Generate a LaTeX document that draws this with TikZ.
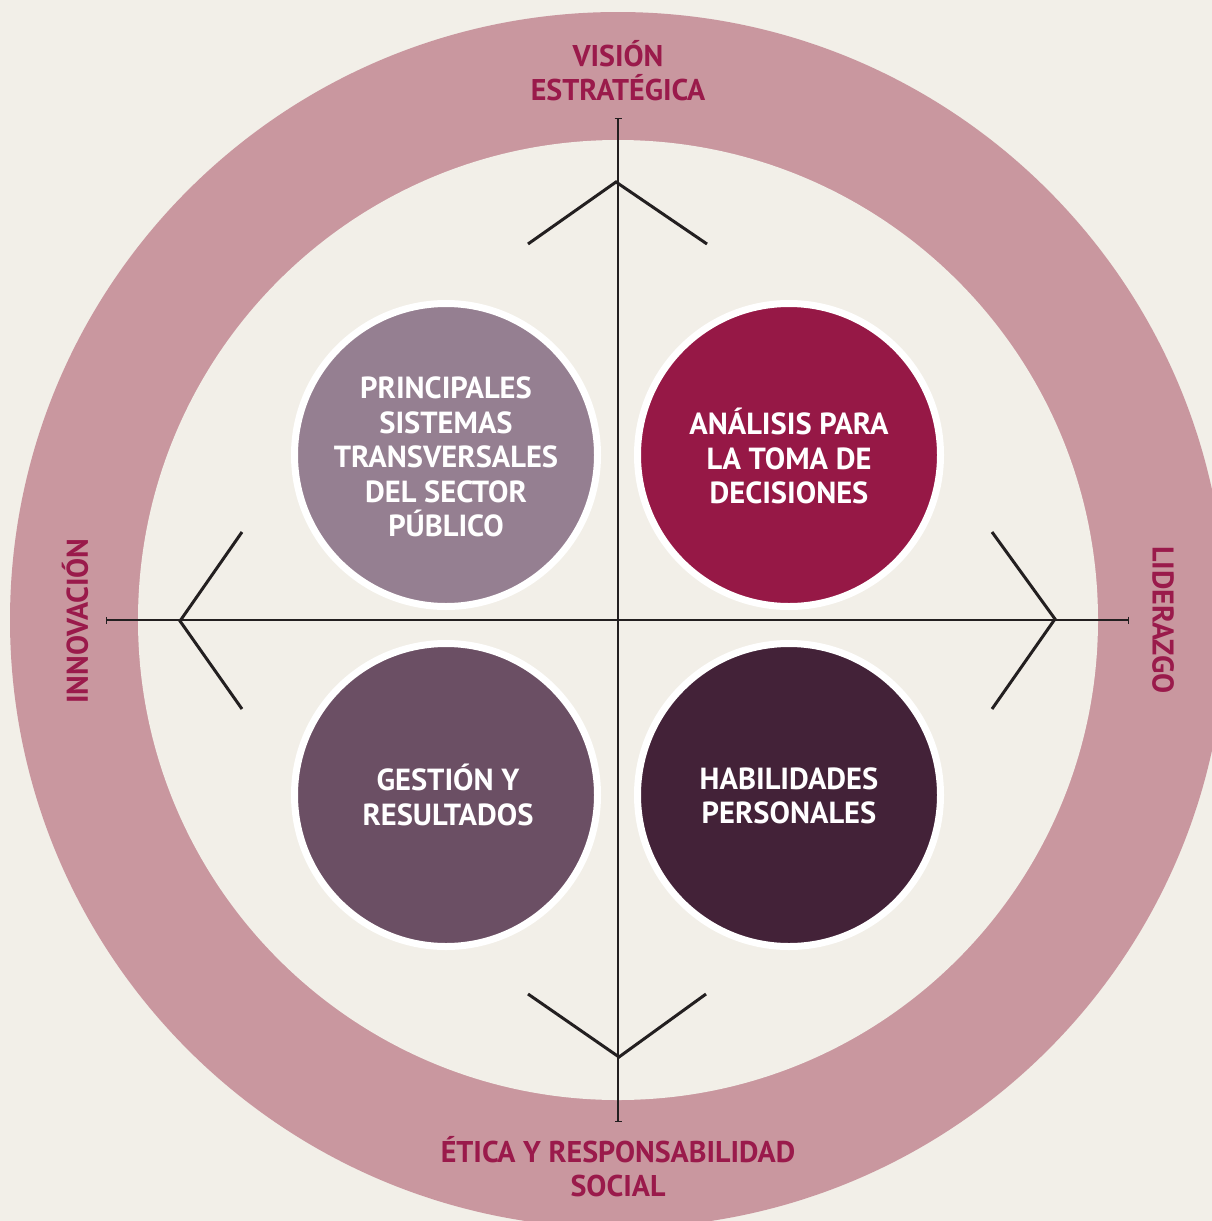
\documentclass[tikz,border=0pt]{standalone}
\usepackage{fontspec}
\setmainfont{PT Sans}
\usetikzlibrary{arrows.meta}
\definecolor{bgc}{HTML}{F2EFE8}
\definecolor{ringc}{HTML}{C9979F}
\definecolor{labc}{HTML}{9A1A4B}
\definecolor{cone}{HTML}{957F91}
\definecolor{ctwo}{HTML}{961846}
\definecolor{cthree}{HTML}{6B4F64}
\definecolor{cfour}{HTML}{432238}
\definecolor{linec}{HTML}{231F20}
\tikzset{
  bubble/.style={circle, inner sep=0pt, minimum size=303pt, draw=white, line width=7pt},
  bubtext/.style={text=white, align=center, inner sep=0pt, font=\fontsize{30.5}{34.5}\selectfont\bfseries},
  ringlabel/.style={text=labc, align=center, font=\fontsize{30}{34}\selectfont\bfseries, inner sep=0pt},
  axis/.style={draw=linec, line width=1.4pt, {Bar[width=7pt]}-{Bar[width=7pt]}},
  chev/.style={draw=linec, line width=3pt, line join=miter},
}
\begin{document}
\begin{tikzpicture}[x=1pt,y=-1pt]
\useasboundingbox (0,0) rectangle (1212,1221);
\fill[bgc] (0,0) rectangle (1212,1221);
\begin{scope}
\clip (0,0) rectangle (1212,1221);
\fill[ringc] (618,620) circle[radius=608];
\fill[bgc] (618,620) circle[radius=480];
\end{scope}
% axes
\coordinate (vt) at (618,118);
\coordinate (vb) at (618,1122);
\coordinate (hl) at (106,620);
\coordinate (hr) at (1129,620);
\draw[axis] (vt) -- (vb);
\draw[axis] (hl) -- (hr);
% chevrons
\coordinate (ta) at (616,182);
\coordinate (tl1) at (528,244);
\coordinate (tr1) at (707,244);
\coordinate (ba) at (619,1057);
\coordinate (bl1) at (528,994);
\coordinate (br1) at (706,994);
\coordinate (la) at (180,621);
\coordinate (lt1) at (242,532);
\coordinate (lb1) at (242,709);
\coordinate (ra) at (1055,619);
\coordinate (rt1) at (992,532);
\coordinate (rb1) at (992,709);
\draw[chev] (tl1) -- (ta) -- (tr1);
\draw[chev] (bl1) -- (ba) -- (br1);
\draw[chev] (lt1) -- (la) -- (lb1);
\draw[chev] (rt1) -- (ra) -- (rb1);
% circles
\node[bubble, fill=cone] (ptl) at (446,455) {};
\node[bubble, fill=ctwo] (ptr) at (789,455) {};
\node[bubble, fill=cthree] (pbl) at (446,795) {};
\node[bubble, fill=cfour] (pbr) at (789,795) {};
\node[bubtext] (ttl) at (446,457) {PRINCIPALES\\SISTEMAS\\TRANSVERSALES\\DEL SECTOR\\PÚBLICO};
\node[bubtext] (ttr) at (789,456) {ANÁLISIS PARA\\LA TOMA DE\\DECISIONES};
\node[bubtext] (tbl) at (448,795) {GESTIÓN Y\\RESULTADOS};
\node[bubtext] (tbr) at (789,796) {HABILIDADES\\PERSONALES};
% ring labels
\node[ringlabel] (vis) at (618,71) {VISIÓN\\ESTRATÉGICA};
\node[ringlabel] (eti) at (618,1167) {ÉTICA Y RESPONSABILIDAD\\SOCIAL};
\node[ringlabel, rotate=90] (inn) at (75,621) {INNOVACIÓN};
\node[ringlabel, rotate=-90] (lid) at (1163,620) {LIDERAZGO};
\end{tikzpicture}
\end{document}
